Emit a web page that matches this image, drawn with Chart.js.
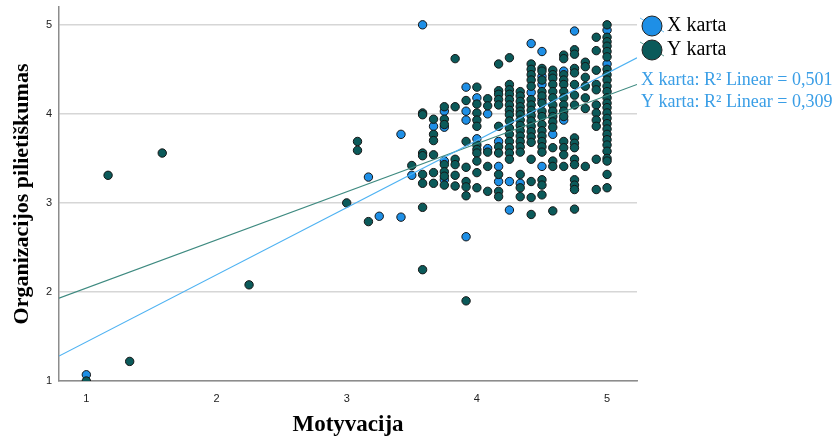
<!DOCTYPE html>
<html>
<head>
<meta charset="utf-8">
<script src="https://cdn.jsdelivr.net/npm/chart.js@4.4.1/dist/chart.umd.min.js"></script>
<style>
  html, body { margin: 0; padding: 0; background: #fff; }
  #wrap { width: 838px; height: 437px; }
</style>
</head>
<body>
<div id="wrap"><canvas id="chart" width="838" height="437"></canvas></div>
<script>
// Motyvacija columns and the Organizacijos pilietiškumas values found in each
const xKartaMot = [1, 3.167, 3.25, 3.417, 3.5, 3.583, 3.667, 3.75, 3.917, 4, 4.083, 4.167, 4.25, 4.333, 4.417, 4.5, 4.583, 4.667, 4.75, 5];
const xKartaOrg = [
  [1.07], [3.29], [2.85], [3.77, 2.84], [3.31], [5.0], [3.86],
  [4.03, 3.85, 3.47, 3.26], [4.30, 4.03, 3.93, 2.62], [4.18, 3.72], [4.0, 3.61],
  [3.69, 3.41, 3.24], [3.24, 2.92], [3.22], [4.79, 4.24], [4.70, 4.42, 4.33, 4.16, 3.41],
  [3.77], [4.48, 3.93], [4.93], [4.94, 4.56]
];

const yKartaMot = [1, 1.167, 1.333, 1.583, 2.25, 3, 3.083, 3.167, 3.5, 3.583, 3.667, 3.75, 3.833, 3.917, 4, 4.083, 4.167, 4.25, 4.333, 4.417, 4.5, 4.583, 4.667, 4.75, 4.833, 4.917, 5];
const yKartaOrg = [
  [1.0], [3.31], [1.22], [3.56], [2.08], [3.0], [3.69, 3.59], [2.79], [3.42],
  [4.01, 3.99, 3.56, 3.53, 3.32, 3.22, 2.95, 2.25],
  [3.94, 3.77, 3.70, 3.54, 3.34, 3.22],
  [4.08, 3.94, 3.88, 3.43, 3.35, 3.30, 3.20],
  [4.62, 4.08, 3.49, 3.43, 3.31, 3.19],
  [4.15, 3.69, 3.40, 3.24, 3.18, 3.08, 1.90],
  [4.30, 4.11, 4.01, 3.93, 3.86, 3.65, 3.60, 3.56, 3.47, 3.34, 3.17],
  [4.17, 4.09, 3.57, 3.41, 3.13],
  [4.56, 4.26, 4.22, 4.16, 4.10, 3.86, 3.63, 3.56, 3.32, 3.13, 3.07],
  [4.63, 4.33, 4.27, 4.22, 4.16, 4.10, 4.04, 3.99, 3.92, 3.84, 3.77, 3.69, 3.62, 3.56, 3.49],
  [4.25, 4.20, 4.14, 4.08, 4.03, 3.99, 3.93, 3.87, 3.81, 3.75, 3.69, 3.63, 3.57, 3.32, 3.17, 3.07],
  [4.56, 4.50, 4.44, 4.38, 4.31, 4.16, 4.10, 4.04, 3.98, 3.92, 3.86, 3.80, 3.74, 3.68, 3.49, 3.24, 3.06, 2.87],
  [4.51, 4.48, 4.38, 4.25, 4.20, 4.12, 4.03, 3.97, 3.88, 3.81, 3.75, 3.69, 3.63, 3.57, 3.26, 3.20, 3.09],
  [4.49, 4.44, 4.40, 4.33, 4.25, 4.18, 4.10, 4.03, 3.97, 3.91, 3.85, 3.62, 3.47, 3.41, 2.91],
  [4.66, 4.62, 4.44, 4.38, 4.33, 4.25, 4.18, 4.10, 4.03, 3.97, 3.69, 3.62, 3.54, 3.41],
  [4.72, 4.67, 4.51, 4.46, 4.33, 4.21, 4.10, 3.73, 3.67, 3.62, 3.49, 3.43, 3.26, 3.20, 3.15, 2.93],
  [4.58, 4.53, 4.41, 4.31, 4.18, 4.06, 3.41],
  [4.86, 4.71, 4.49, 4.33, 4.27, 4.10, 4.01, 3.93, 3.86, 3.49, 3.15],
  [5.0, 4.86, 4.81, 4.76, 4.70, 4.64, 4.50, 4.44, 4.38, 4.31, 4.25, 4.18, 4.12, 4.07, 4.01, 3.95, 3.89, 3.83, 3.77, 3.71, 3.65, 3.58, 3.50, 3.47, 3.32, 3.17]
];

// fit line ends
const fitMot = [0.79, 5.23];
const fitXOrg = [1.28, 4.63];
const fitYOrg = [1.93, 4.33];

const tickVals = [1, 2, 3, 4, 5];
const r2Labels = ['X karta: R² Linear = 0,501', 'Y karta: R² Linear = 0,309'];

const BLUE = '#1e8fe6', TEAL = '#0b5a5a';
const SERIF = '"Liberation Serif", "Times New Roman", serif';

const toPoints = (xs, ys) => xs.flatMap((x, i) => ys[i].map(y => ({ x, y })));
const toLine = (xs, ys) => xs.map((x, i) => ({ x, y: ys[i] }));

// titles + legend drawn by hand, outside the plot area
const decorations = {
  id: 'decorations',
  afterDraw(chart){
    const c = chart.ctx;
    const a = chart.chartArea;
    c.save();
    c.fillStyle = '#000';
    c.textAlign = 'center';
    c.textBaseline = 'middle';
    c.font = 'bold 23px ' + SERIF;
    c.fillText('Motyvacija', (a.left + a.right) / 2, 425);
    c.translate(22, (a.top + a.bottom) / 2);
    c.rotate(-Math.PI / 2);
    c.font = 'bold 22px ' + SERIF;
    c.fillText('Organizacijos pilietiškumas', 0, 0);
    c.restore();

    c.save();
    const items = [['X karta', BLUE, '#6fc0f2', 26], ['Y karta', TEAL, '#5f9e95', 50]];
    items.forEach(([txt, fill, lineCol, y]) => {
      c.strokeStyle = lineCol; c.lineWidth = 1;
      c.beginPath(); c.moveTo(640, y - 8); c.lineTo(664, y + 6); c.stroke();
      c.beginPath(); c.arc(652, y, 10, 0, Math.PI * 2);
      c.fillStyle = fill; c.fill();
      c.strokeStyle = '#222'; c.lineWidth = 1; c.stroke();
      c.fillStyle = '#000'; c.font = '20px ' + SERIF;
      c.textAlign = 'left'; c.textBaseline = 'middle';
      c.fillText(txt, 667, y);
    });
    c.fillStyle = '#3a9ee6'; c.font = '18px ' + SERIF;
    c.fillText(r2Labels[0], 641, 80);
    c.fillText(r2Labels[1], 641, 102);
    c.restore();
  }
};

new Chart(document.getElementById('chart'), {
  type: 'scatter',
  data: {
    datasets: [
      { label: 'X karta fit', type: 'line', data: toLine(fitMot, fitXOrg), borderColor: '#4eb2f2', borderWidth: 1.2, pointRadius: 0, fill: false, order: 0 },
      { label: 'Y karta fit', type: 'line', data: toLine(fitMot, fitYOrg), borderColor: '#3e8a80', borderWidth: 1.2, pointRadius: 0, fill: false, order: 0 },
      { label: 'Y karta', data: toPoints(yKartaMot, yKartaOrg), backgroundColor: TEAL, borderColor: '#151515', borderWidth: 1, pointRadius: 4.2, order: 1, clip: { left: 6, top: 6, right: 6, bottom: 0 } },
      { label: 'X karta', data: toPoints(xKartaMot, xKartaOrg), backgroundColor: BLUE, borderColor: '#151515', borderWidth: 1, pointRadius: 4.2, order: 2, clip: { left: 6, top: 6, right: 6, bottom: 0 } }
    ]
  },
  options: {
    responsive: false,
    animation: false,
    events: [],
    layout: { padding: { top: 7, right: 201, left: 0, bottom: 0 } },
    plugins: { legend: { display: false }, tooltip: { enabled: false } },
    scales: {
      x: {
        type: 'linear', min: fitMot[0], max: fitMot[1],
        afterBuildTicks: s => { s.ticks = tickVals.map(v => ({ value: v })); },
        afterFit: s => { s.height = 56; s.paddingLeft = 0; s.paddingRight = 0; },
        grid: { display: false, drawTicks: false },
        border: { display: true, color: '#8c8c8c', width: 1.5 },
        ticks: { padding: 11, color: '#222', font: { family: '"Liberation Sans", Arial, sans-serif', size: 11 } }
      },
      y: {
        type: 'linear', min: 1, max: 5.2,
        afterBuildTicks: s => { s.ticks = tickVals.map(v => ({ value: v })); },
        afterFit: s => { s.width = 59; s.paddingTop = 0; s.paddingBottom = 0; },
        grid: { color: '#d6d6d6', lineWidth: 1.5, drawTicks: false },
        border: { display: true, color: '#8c8c8c', width: 1.5 },
        ticks: { padding: 7, color: '#222', font: { family: '"Liberation Sans", Arial, sans-serif', size: 11 } }
      }
    }
  },
  plugins: [decorations]
});
</script>
</body>
</html>
